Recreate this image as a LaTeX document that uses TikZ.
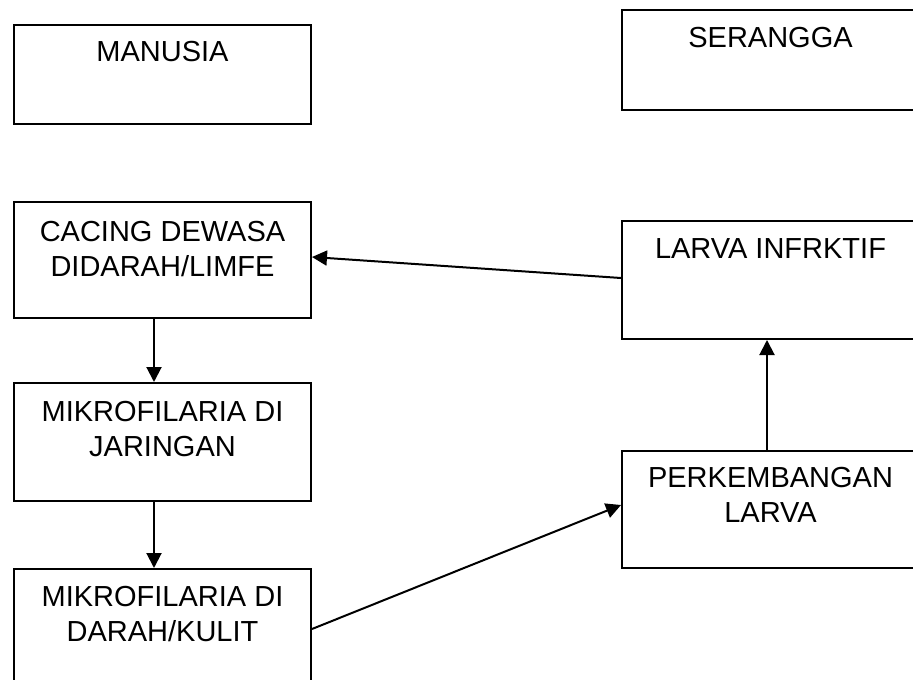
\documentclass[tikz,border=0pt]{standalone}
\usepackage{fontspec}
\setmainfont{Liberation Sans}
\usetikzlibrary{arrows.meta}
\begin{document}
\begin{tikzpicture}[x=1pt,y=-1pt,
  box/.style={draw=black, line width=2pt, rectangle, minimum width=297pt, inner sep=0pt},
  txt/.style={font=\fontsize{29}{35}\selectfont, align=center, anchor=north, inner sep=0pt},
  conn/.style={line width=2pt, -{Triangle[length=15pt 0 0,width=15pt 0 0]}}]
\useasboundingbox (0,0) rectangle (913,680);
\clip (0,0) rectangle (913,680);
\fill[white] (0,0) rectangle (913,680);
% boxes
\node[box, minimum height=99pt]  (manusia) at (162.5,74.5) {};
\node[box, minimum height=100pt] (serangga) at (770.5,60) {};
\node[box, minimum height=116pt] (cacing) at (162.5,260) {};
\node[box, minimum height=118pt] (larva) at (770.5,280) {};
\node[box, minimum height=118pt] (jaringan) at (162.5,442) {};
\node[box, minimum height=117pt] (perkemb) at (770.5,509.5) {};
\node[box, minimum height=118pt] (darah) at (162.5,628) {};
% texts
\node[txt] (tmanusia) at ([yshift=-17pt]manusia.north) {MANUSIA};
\node[txt] (tserangga) at ([yshift=-18pt]serangga.north) {SERANGGA};
\node[txt] (tcacing) at ([yshift=-20pt]cacing.north) {CACING DEWASA\\DIDARAH/LIMFE};
\node[txt] (tlarva) at ([yshift=-18pt]larva.north) {LARVA INFRKTIF};
\node[txt] (tjaringan) at ([yshift=-19pt]jaringan.north) {MIKROFILARIA DI\\JARINGAN};
\node[txt] (tperkemb) at ([yshift=-17pt]perkemb.north) {PERKEMBANGAN\\LARVA};
\node[txt] (tdarah) at ([yshift=-18pt]darah.north) {MIKROFILARIA DI\\DARAH/KULIT};
% connectors
\draw[conn] ([xshift=-8.5pt]cacing.south) -- ([xshift=-8.5pt]jaringan.north);
\draw[conn] ([xshift=-8.5pt]jaringan.south) -- ([xshift=-8.5pt]darah.north);
\draw[conn] ([yshift=2pt]larva.west) -- ([yshift=3pt]cacing.east);
\draw[conn] ([yshift=-1pt]darah.east) -- ([yshift=4.5pt]perkemb.west);
\draw[conn] ([xshift=-3.5pt]perkemb.north) -- ([xshift=-3.5pt]larva.south);
\end{tikzpicture}
\end{document}
